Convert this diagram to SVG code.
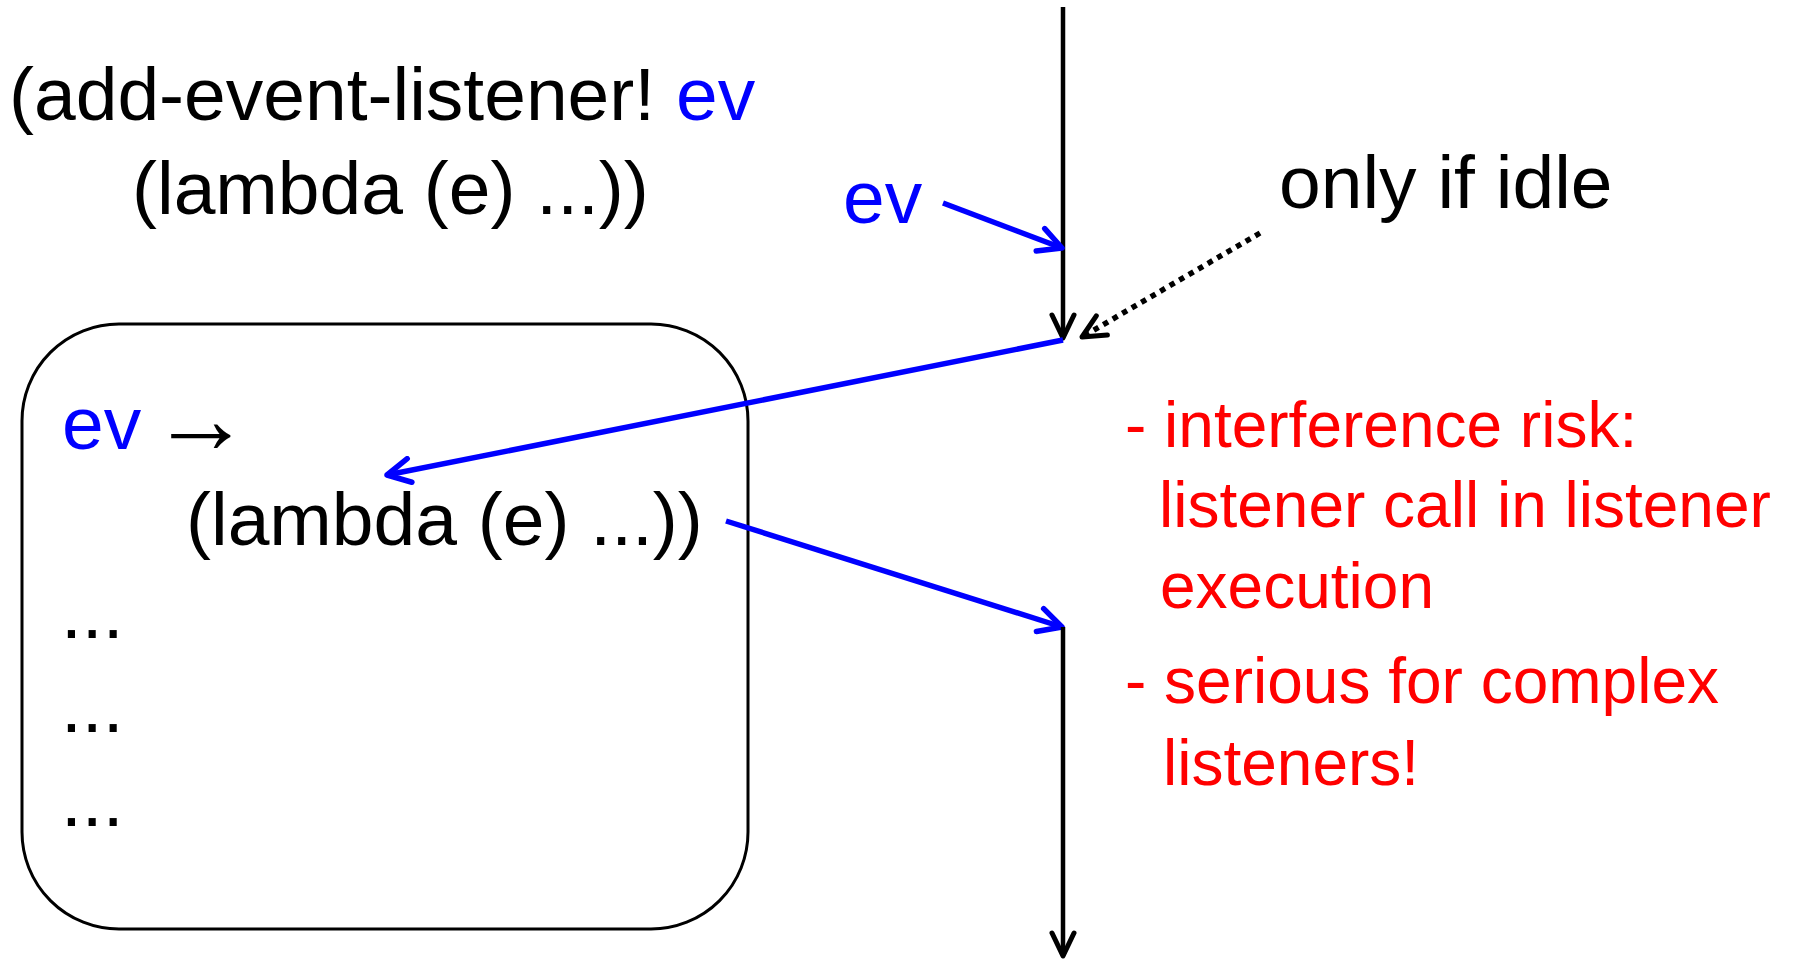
<svg xmlns="http://www.w3.org/2000/svg" width="1794" height="959" viewBox="0 0 1794 959">
<style>
  text { font-family: "Liberation Sans", Arial, sans-serif; }
  .big { font-size: 75px; fill: #000; }
  .blue { fill: #0000FF; }
  .arr { font-family: "Liberation Serif", "Times New Roman", serif; font-size: 100px; fill: #000; }
  .red { font-size: 64px; fill: #FF0000; }
  .blk { stroke: #000; stroke-width: 4.5; fill: none; }
  .bl { stroke: #0000FF; stroke-width: 5.5; fill: none; }
  .dot { stroke: #000; stroke-width: 5.5; fill: none; stroke-dasharray: 5.5 5.5; }
</style>
<defs>
  <marker id="ah-black" viewBox="-30 -15 36 30" refX="0" refY="0" markerWidth="36" markerHeight="30" markerUnits="userSpaceOnUse" orient="auto">
    <path d="M-23,-11 L0,0 L-23,11" fill="none" stroke="#000" stroke-width="5" stroke-linecap="round" stroke-linejoin="round"/>
  </marker>
  <marker id="ah-blue" viewBox="-30 -15 36 30" refX="0" refY="0" markerWidth="36" markerHeight="30" markerUnits="userSpaceOnUse" orient="auto">
    <path d="M-23,-12 L0,0 L-23,12" fill="none" stroke="#0000FF" stroke-width="5.5" stroke-linecap="round" stroke-linejoin="round"/>
  </marker>
</defs>
<rect width="1794" height="959" fill="#fff"/>

<g id="registration">
  <text class="big" x="9" y="120">(add-event-listener! <tspan class="blue">ev</tspan></text>
  <text class="big" x="132" y="214">(lambda (e) ...))</text>
</g>

<g id="ev-label">
  <text class="big blue" x="843" y="223">ev</text>
</g>

<g id="idle-label">
  <text class="big" x="1279" y="208">only if idle</text>
</g>

<g id="listener-table">
  <rect x="22" y="324" width="726" height="605" rx="97" ry="97" fill="none" stroke="#000" stroke-width="3"/>
  <text class="big blue" x="62" y="449">ev</text>
  <text class="arr" x="151" y="453">→</text>
  <text class="big" x="186" y="545">(lambda (e) ...))</text>
  <text class="big" x="61" y="638">...</text>
  <text class="big" x="61" y="732">...</text>
  <text class="big" x="61" y="826">...</text>
</g>

<g id="notes">
  <text class="red" x="1125" y="447">- interference risk:</text>
  <text class="red" x="1159" y="527">listener call in listener</text>
  <text class="red" x="1160" y="608">execution</text>
  <text class="red" x="1125" y="703">- serious for complex</text>
  <text class="red" x="1163" y="785">listeners!</text>
</g>

<g id="connectors">
  <line class="blk" x1="1063" y1="7" x2="1063" y2="338" marker-end="url(#ah-black)"/>
  <line class="bl" x1="943" y1="203" x2="1062" y2="248" marker-end="url(#ah-blue)"/>
  <line class="dot" x1="1260" y1="233" x2="1082" y2="337" marker-end="url(#ah-black)"/>
  <line class="bl" x1="1063" y1="340" x2="387" y2="475" marker-end="url(#ah-blue)"/>
  <line class="bl" x1="726" y1="521" x2="1062" y2="627" marker-end="url(#ah-blue)"/>
  <line class="blk" x1="1063" y1="627" x2="1063" y2="956" marker-end="url(#ah-black)"/>
</g>
</svg>
